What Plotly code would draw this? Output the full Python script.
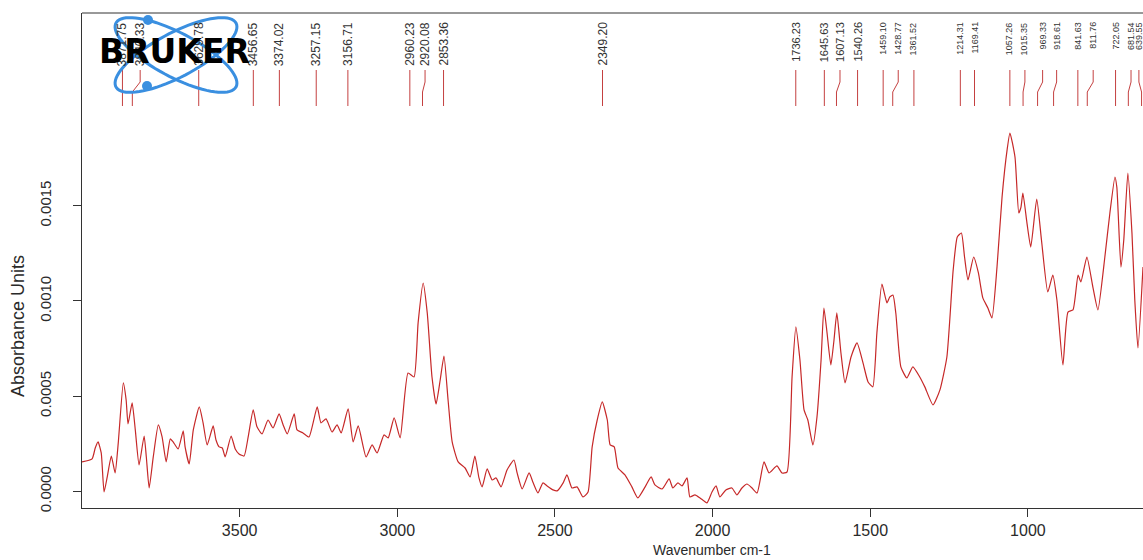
import numpy as np
import plotly.graph_objects as go

# ---------------- data ----------------
wavenumber = [
    4000, 3968, 3958, 3949, 3939, 3930, 3920, 3907, 3895, 3885, 3869, 3860, 3854, 3841, 3831, 3819,
    3803, 3796, 3787, 3774, 3758, 3746, 3733, 3720, 3711, 3695, 3679, 3673, 3660, 3647, 3628, 3616,
    3603, 3584, 3575, 3565, 3555, 3546, 3527, 3514, 3502, 3486, 3473, 3457, 3445, 3429, 3410, 3394,
    3375, 3362, 3349, 3327, 3318, 3299, 3280, 3254, 3242, 3226, 3207, 3191, 3178, 3156, 3140, 3124,
    3099, 3080, 3064, 3042, 3029, 3010, 2991, 2966, 2947, 2934, 2918, 2905, 2890, 2877, 2864, 2852,
    2839, 2826, 2807, 2785, 2769, 2754, 2741, 2731, 2715, 2699, 2687, 2671, 2652, 2630, 2620, 2604,
    2582, 2569, 2554, 2538, 2525, 2506, 2493, 2474, 2462, 2446, 2430, 2411, 2395, 2382, 2366, 2350,
    2334, 2325, 2312, 2300, 2278, 2256, 2237, 2214, 2195, 2183, 2160, 2138, 2126, 2110, 2097, 2081,
    2072, 2056, 2040, 2018, 2002, 1989, 1977, 1958, 1939, 1923, 1907, 1891, 1875, 1859, 1837, 1821,
    1796, 1780, 1764, 1748, 1736, 1723, 1710, 1698, 1682, 1669, 1656, 1647, 1637, 1625, 1615, 1606,
    1593, 1580, 1561, 1542, 1523, 1507, 1492, 1479, 1463, 1447, 1438, 1428, 1419, 1403, 1384, 1365,
    1343, 1327, 1301, 1279, 1257, 1237, 1224, 1211, 1201, 1190, 1172, 1157, 1143, 1127, 1114, 1098,
    1082, 1066, 1057, 1041, 1029, 1022, 1016, 1003, 991, 972, 957, 937, 921, 908, 889, 873,
    857, 841, 832, 813, 794, 778, 756, 740, 724, 718, 705, 696, 683, 670, 661, 651,
    635,
]
absorbance_e4 = [
    1.55, 1.71, 2.28, 2.60, 2.02, -0.03, 0.76, 1.86, 0.97, 2.55, 5.70, 4.80, 3.54, 4.65, 3.23, 1.39,
    2.91, 1.81, 0.18, 1.81, 3.49, 2.86, 1.55, 2.76, 2.60, 2.23, 3.18, 2.34, 1.44, 3.23, 4.44, 3.60,
    2.44, 3.44, 2.70, 2.34, 2.28, 1.81, 2.91, 2.23, 1.97, 1.86, 2.86, 4.28, 3.39, 3.02, 3.75, 3.33,
    4.07, 3.49, 3.02, 4.07, 3.23, 3.07, 2.86, 4.44, 3.60, 3.81, 3.12, 3.49, 3.07, 4.33, 2.60, 3.44,
    1.81, 2.44, 2.02, 2.97, 2.81, 3.86, 2.81, 6.22, 6.01, 8.85, 10.94, 9.37, 6.01, 4.59, 5.85, 7.11,
    4.80, 2.60, 1.55, 1.23, 0.76, 1.86, 0.71, 0.24, 1.18, 0.60, 0.71, 0.24, 1.13, 1.65, 0.97, 0.13,
    0.97, 0.45, -0.08, 0.45, 0.29, 0.08, 0.03, 0.45, 0.87, 0.18, 0.24, -0.29, -0.03, 2.34, 3.75, 4.70,
    3.75, 2.44, 2.34, 1.23, 0.87, 0.24, -0.34, 0.24, 0.76, 0.34, 0.13, 0.66, 0.18, 0.45, 0.29, 0.71,
    -0.29, -0.18, -0.34, -0.60, -0.03, 0.29, -0.29, 0.08, 0.18, -0.18, 0.18, 0.39, 0.18, -0.08, 1.55, 0.97,
    1.34, 0.97, 1.02, 6.01, 8.64, 6.90, 4.28, 3.75, 2.44, 3.91, 6.90, 9.63, 8.32, 6.64, 7.95, 9.37,
    7.27, 5.70, 7.06, 7.80, 6.75, 5.75, 5.49, 8.32, 10.89, 9.90, 10.21, 10.31, 9.37, 6.54, 5.96, 6.54,
    6.01, 5.49, 4.54, 5.33, 7.06, 11.63, 13.36, 13.57, 12.31, 11.10, 12.31, 11.47, 10.16, 9.63, 9.11, 11.78,
    15.46, 17.93, 18.82, 17.56, 14.62, 14.93, 15.67, 14.09, 12.83, 15.35, 13.20, 10.47, 11.36, 10.05, 6.64, 9.42,
    9.53, 11.36, 11.00, 12.31, 10.73, 9.53, 12.31, 14.62, 16.51, 15.98, 11.78, 13.20, 16.72, 13.57, 10.05, 7.53,
    11.78,
]

peak_labels = ["3871.75", "3840.33", "3629.78", "3456.65", "3374.02", "3257.15", "3156.71",
               "2960.23", "2920.08", "2853.36", "2349.20", "1736.23", "1645.63", "1607.13",
               "1540.26", "1459.10", "1428.77", "1361.52", "1214.31", "1169.41", "1057.26",
               "1015.35", "969.33", "918.61", "841.63", "811.76", "722.05", "681.54", "639.55"]
peak_wn = [3871.75, 3840.33, 3629.78, 3456.65, 3374.02, 3257.15, 3156.71,
           2960.23, 2920.08, 2853.36, 2349.20, 1736.23, 1645.63, 1607.13,
           1540.26, 1459.10, 1428.77, 1361.52, 1214.31, 1169.41, 1057.26,
           1015.35, 969.33, 918.61, 841.63, 811.76, 722.05, 681.54, 639.55]
label_wn = [3871.75, 3815.5, 3629.78, 3456.65, 3374.02, 3257.15, 3156.71,
            2960.23, 2912.0, 2853.36, 2349.20, 1736.23, 1645.63, 1596.0,
            1540.26, 1459.10, 1411.3, 1361.52, 1214.31, 1169.41, 1057.26,
            1009.5, 953.4, 908.9, 841.63, 793.0, 722.05, 673.0, 648.0]

x_ticks = [3500, 3000, 2500, 2000, 1500, 1000]
y_ticks = [0.0, 0.0005, 0.0010, 0.0015]
y_ticktext = ["0.0000", "0.0005", "0.0010", "0.0015"]

absorbance = np.array(absorbance_e4) * 1e-4

# ---------------- geometry ----------------
W, H = 1143, 560
PL, PT, PB = 82, 13, 508          # plot edges in window pixels
ML, MT, MR, MB = PL, PT, 0, H - PB
PW, PH = W - ML - MR, H - MT - MB


def ppx(px):
    return (px - PL) / PW


def ppy(py):
    return 1 - (py - PT) / PH


RED = "#c62828"
LINE_RED = "#c44040"
TXT = "#2a2a2a"

fig = go.Figure()
fig.add_trace(go.Scatter(
    x=wavenumber, y=absorbance, mode="lines",
    line=dict(color=RED, width=1.2, shape="spline", smoothing=0.5),
    hoverinfo="skip", showlegend=False,
))

shapes = []
annotations = []

# peak marker lines
y_top, y_j1, y_j2, y_bot = ppy(70), ppy(82), ppy(92), ppy(106)
for wp, wl, lab in zip(peak_wn, label_wn, peak_labels):
    if abs(wp - wl) < 0.5:
        shapes.append(dict(type="line", xref="x", yref="paper", x0=wp, x1=wp,
                           y0=y_top, y1=y_bot, line=dict(color=LINE_RED, width=1)))
    else:
        shapes.append(dict(type="path", xref="x", yref="paper",
                           path=f"M {wl},{y_top} L {wl},{y_j1} L {wp},{y_j2} L {wp},{y_bot}",
                           line=dict(color=LINE_RED, width=1)))
    if wp > 2000:
        fs = 12
    elif wp > 1500:
        fs = 11
    else:
        fs = 9
    annotations.append(dict(
        x=wl, y=ppy(20), xref="x", yref="paper", text=lab, showarrow=False,
        textangle=-90, xanchor="center", yanchor="top",
        font=dict(family="Liberation Sans, Arial, sans-serif", size=fs, color="#333333"),
    ))

# top frame line
shapes.append(dict(type="line", xref="paper", yref="paper", x0=0, x1=1, y0=1, y1=1,
                   line=dict(color="#333333", width=1)))

# Bruker logo (decoration)
BLUE = "#3a8fe0"
cx, cy, a, b = 176, 55, 68, 22
t = np.linspace(0, 2 * np.pi, 80)
for ang in (28, -28):
    th = np.deg2rad(ang)
    xs = cx + a * np.cos(t) * np.cos(th) - b * np.sin(t) * np.sin(th)
    ys = cy + a * np.cos(t) * np.sin(th) + b * np.sin(t) * np.cos(th)
    path = "M " + " L ".join(f"{ppx(x):.5f},{ppy(y):.5f}" for x, y in zip(xs, ys)) + " Z"
    shapes.append(dict(type="path", xref="paper", yref="paper", path=path,
                       line=dict(color=BLUE, width=3), layer="above"))
for (dx, dy) in ((148, 20), (147, 86)):
    shapes.append(dict(type="circle", xref="paper", yref="paper",
                       x0=ppx(dx - 5), x1=ppx(dx + 5), y0=ppy(dy + 5), y1=ppy(dy - 5),
                       fillcolor=BLUE, line=dict(color=BLUE, width=0), layer="above"))
annotations.append(dict(
    x=ppx(174), y=ppy(51), xref="paper", yref="paper", text="<b>BRUKER</b>", showarrow=False,
    xanchor="center", yanchor="middle",
    font=dict(family="DejaVu Sans, sans-serif", size=33, color="#000000"),
))

# axis titles
annotations.append(dict(
    x=ppx(18), y=ppy(326), xref="paper", yref="paper", text="Absorbance Units", showarrow=False,
    textangle=-90, xanchor="center", yanchor="middle",
    font=dict(family="Liberation Sans, Arial, sans-serif", size=18, color=TXT),
))
annotations.append(dict(
    x=ppx(712), y=ppy(550), xref="paper", yref="paper", text="Wavenumber cm-1", showarrow=False,
    xanchor="center", yanchor="middle",
    font=dict(family="Liberation Sans, Arial, sans-serif", size=14, color=TXT),
))

fig.update_layout(
    width=W, height=H,
    margin=dict(l=ML, r=MR, t=MT, b=MB, pad=0),
    paper_bgcolor="white", plot_bgcolor="white",
    showlegend=False,
    shapes=shapes, annotations=annotations,
    xaxis=dict(
        range=[4000, 635], tickvals=x_ticks, ticks="outside", ticklen=8, tickwidth=1,
        tickcolor="#333333", showline=True, linecolor="#333333", linewidth=1,
        showgrid=False, zeroline=False,
        tickfont=dict(family="Liberation Sans, Arial, sans-serif", size=16, color=TXT),
    ),
    yaxis=dict(
        range=[-0.000087, 0.002512], tickvals=y_ticks, ticktext=y_ticktext,
        ticks="outside", ticklen=8, tickwidth=1, tickcolor="#333333", tickangle=-90,
        showline=True, linecolor="#333333", linewidth=1, showgrid=False, zeroline=False,
        ticklabelstandoff=16,
        tickfont=dict(family="Liberation Sans, Arial, sans-serif", size=15, color=TXT),
    ),
)

# remove the default page margin so the 1143x560 figure fills the window exactly
fig.write_html(
    "out.html",
    config={"displayModeBar": False},
    post_script="document.body.style.margin='0px';document.body.style.overflow='hidden';",
)
